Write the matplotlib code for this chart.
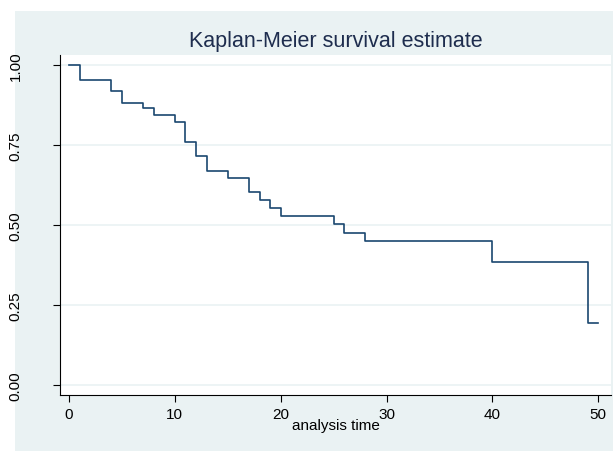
import matplotlib.pyplot as plt
from matplotlib.patches import Rectangle

plt.rcParams['font.family'] = ['Liberation Sans', 'DejaVu Sans']

# step times and survival after each step
times = [0, 1, 4, 5, 7, 8, 10, 11, 12, 13, 15, 17, 18, 19, 20, 25, 26, 28, 40, 49, 50]
surv = [1.0, 0.954, 0.920, 0.882, 0.864, 0.844, 0.823, 0.760, 0.716, 0.670, 0.647,
        0.603, 0.578, 0.553, 0.528, 0.502, 0.476, 0.450, 0.385, 0.193, 0.193]
xticks = [0, 10, 20, 30, 40, 50]
yticks = [0.0, 0.25, 0.5, 0.75, 1.0]
ylabels = ['0.00', '0.25', '0.50', '0.75', '1.00']

fig = plt.figure(figsize=(6.13, 4.52), dpi=100)
fig.patch.set_facecolor('white')
fig.patches.append(Rectangle((15 / 613, 0), 1, 1 - 12 / 452, transform=fig.transFigure,
                             facecolor='#eaf2f3', edgecolor='none', zorder=-5))

ax = fig.add_axes([60 / 613, 1 - 396 / 452, 551 / 613, 340 / 452])
ax.set_facecolor('white')
ax.step(times, surv, where='post', color='#1a476f', lw=1.2)
ax.set_xlim(-0.85, 51.2)
ax.set_ylim(-0.031, 1.031)
ax.set_xticks(xticks)
ax.set_yticks(yticks)
ax.set_yticklabels(ylabels, rotation=90, va='center')
ax.tick_params(labelsize=11, colors='black', length=5)
ax.tick_params(axis='y', pad=22)
ax.grid(axis='y', color='#eaf2f3', lw=1.2)
ax.set_axisbelow(True)
for s in ['top', 'right']:
    ax.spines[s].set_visible(False)
ax.set_xlabel('analysis time', fontsize=11, labelpad=-2)
fig.text(0.548, 1 - 42 / 452, 'Kaplan-Meier survival estimate', fontsize=15.5,
         color='#1e2d4e', ha='center', va='center')

fig.savefig('out.png', dpi=100, facecolor=fig.get_facecolor())
